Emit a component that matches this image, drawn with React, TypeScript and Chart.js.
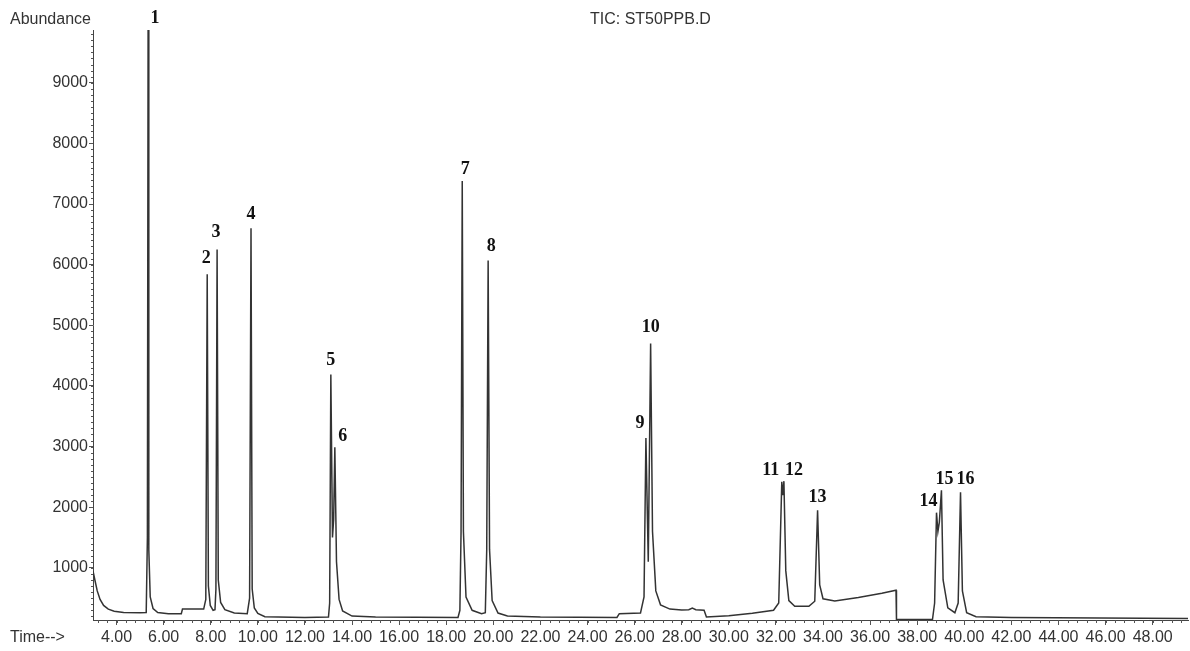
import React, { useEffect, useRef } from "react";
import { Chart, registerables } from "chart.js";

Chart.register(...registerables);

// Retention time (min) and abundance of the total ion chromatogram trace
const times = [
  3.0, 3.08, 3.18, 3.3, 3.45, 3.65, 3.9, 4.3, 5.0, 5.26,
  5.31, 5.34, 5.37, 5.43, 5.55, 5.75, 6.2, 6.75, 6.8, 7.7,
  7.79, 7.85, 7.9, 7.98, 8.1, 8.18, 8.22, 8.27, 8.32, 8.42,
  8.6, 9.0, 9.55, 9.65, 9.71, 9.76, 9.85, 10.0, 10.3, 12.0,
  13.0, 13.05, 13.1, 13.17, 13.22, 13.27, 13.34, 13.45, 13.6, 14.0,
  15.0, 18.5, 18.58, 18.63, 18.68, 18.73, 18.84, 19.1, 19.5, 19.66,
  19.72, 19.78, 19.84, 19.95, 20.2, 20.6, 22.0, 25.25, 25.35, 26.25,
  26.4, 26.48, 26.58, 26.68, 26.76, 26.9, 27.1, 27.5, 28.0, 28.3,
  28.45, 28.6, 28.95, 29.05, 30.0, 31.0, 31.9, 32.12, 32.25, 32.3,
  32.34, 32.42, 32.55, 32.8, 33.4, 33.65, 33.77, 33.86, 34.0, 34.5,
  35.5, 36.5, 37.1, 37.12, 38.65, 38.74, 38.82, 38.88, 38.94, 39.03,
  39.1, 39.3, 39.6, 39.74, 39.84, 39.92, 40.1, 40.5, 42.0, 49.5,
];
const abundance = [
  950, 800, 620, 480, 380, 320, 285, 265, 258, 262,
  1500, 9870, 1300, 520, 330, 262, 245, 245, 320, 320,
  480, 5840, 700, 380, 300, 310, 650, 6250, 800, 430,
  310, 255, 245, 500, 6600, 650, 340, 250, 195, 182,
  188, 420, 4190, 1500, 1800, 2990, 1100, 480, 290, 205,
  188, 182, 300, 1600, 7380, 1600, 520, 300, 245, 260,
  1300, 6070, 1300, 460, 255, 205, 188, 182, 245, 255,
  520, 3140, 1100, 4700, 1600, 620, 390, 320, 305, 310,
  335, 310, 300, 190, 210, 250, 300, 420, 2420, 2200,
  2430, 950, 460, 365, 365, 450, 1950, 720, 490, 455,
  510, 580, 630, 150, 150, 420, 1910, 1600, 1750, 2280,
  800, 340, 260, 420, 2245, 620, 260, 195, 180, 165,
];

// Peak annotations
const peakLabels = ["1", "2", "3", "4", "5", "6", "7", "8", "9", "10", "11", "12", "13", "14", "15", "16"];
const peakTimes = [5.34, 7.85, 8.27, 9.71, 13.1, 13.27, 18.68, 19.78, 26.48, 26.68, 32.25, 32.34, 33.77, 38.82, 39.03, 39.84];
const peakHeights = [9870, 5840, 6250, 6600, 4190, 2990, 7380, 6070, 3140, 4700, 2420, 2430, 1950, 1910, 2280, 2245];

// Axis ticks
const xTickValues = [4, 6, 8, 10, 12, 14, 16, 18, 20, 22, 24, 26, 28, 30, 32, 34, 36, 38, 40, 42, 44, 46, 48];
const yTickValues = [1000, 2000, 3000, 4000, 5000, 6000, 7000, 8000, 9000];

const titleText = "TIC: ST50PPB.D";
const yAxisTitle = "Abundance";
const xAxisTitle = "Time-->";

// label pixel offsets relative to each peak top (style only)
const labelOffsets: [number, number][] = [
  [7, -12], [-1, -16], [-1, -17], [0, -14], [0, -14], [8, -11], [3, -12], [3, -14],
  [-6, -15], [0, -16], [-11, -11], [10, -11], [0, -13], [-8, -11], [3, -11], [5, -13],
];

const X_MIN = 3.0;
const X_MAX = 49.5;
const Y_MIN = 140;
const Y_MAX = 9870;

const SANS = "'Liberation Sans', Arial, sans-serif";
const TEXT_COLOR = "#333";

const decorPlugin = {
  id: "decor",
  afterDraw(chart: any) {
    const { ctx, scales, chartArea } = chart;
    const xs = scales.x;
    const ys = scales.y;
    ctx.save();
    // minor ticks
    ctx.strokeStyle = "#555";
    ctx.lineWidth = 1;
    ctx.beginPath();
    for (let i = 0; ; i++) {
      const v = 3.2 + i * 0.4;
      if (v > X_MAX) break;
      const px = Math.round(xs.getPixelForValue(v)) + 0.5;
      ctx.moveTo(px, chartArea.bottom);
      ctx.lineTo(px, chartArea.bottom + 3);
    }
    for (let i = 0; ; i++) {
      const v = 200 + i * 100;
      if (v > Y_MAX) break;
      const py = Math.round(ys.getPixelForValue(v)) + 0.5;
      ctx.moveTo(chartArea.left, py);
      ctx.lineTo(chartArea.left - 2, py);
    }
    ctx.stroke();

    // axis captions and title
    ctx.fillStyle = TEXT_COLOR;
    ctx.font = `16px ${SANS}`;
    ctx.textBaseline = "middle";
    ctx.textAlign = "left";
    ctx.fillText(yAxisTitle, 10, 20);
    ctx.fillText(xAxisTitle, 10, 638);
    ctx.fillText(titleText, 590, 20);

    // peak numbers
    ctx.fillStyle = "#111";
    ctx.font = `bold 18px 'Liberation Serif', 'Times New Roman', serif`;
    ctx.textAlign = "center";
    ctx.textBaseline = "middle";
    peakLabels.forEach((lab, i) => {
      const px = xs.getPixelForValue(peakTimes[i]) + labelOffsets[i][0];
      const py = ys.getPixelForValue(Math.min(peakHeights[i], Y_MAX)) + labelOffsets[i][1];
      ctx.fillText(lab, px, py);
    });
    ctx.restore();
  },
};

export default function App() {
  const canvasRef = useRef<HTMLCanvasElement | null>(null);

  useEffect(() => {
    const canvas = canvasRef.current;
    if (!canvas) return;
    const points = times.map((t, i) => ({ x: t, y: abundance[i] }));
    const chart = new Chart(canvas, {
      type: "line",
      data: {
        datasets: [
          {
            data: points,
            borderColor: "#333",
            borderWidth: 1.5,
            pointRadius: 0,
            tension: 0,
            fill: false,
          },
        ],
      },
      options: {
        responsive: false,
        animation: false,
        events: [],
        layout: { padding: { top: 30, left: 0, right: 2, bottom: 0 } },
        plugins: {
          legend: { display: false },
          tooltip: { enabled: false },
          title: { display: false },
        },
        scales: {
          x: {
            type: "linear",
            min: X_MIN,
            max: X_MAX,
            afterBuildTicks: (scale: any) => {
              scale.ticks = xTickValues.map((v) => ({ value: v }));
            },
            afterFit: (scale: any) => {
              scale.height = 31;
            },
            grid: {
              display: true,
              drawOnChartArea: false,
              drawTicks: true,
              tickLength: 5,
              tickColor: "#555",
            },
            border: { display: true, color: "#444", width: 1 },
            ticks: {
              autoSkip: false,
              maxRotation: 0,
              minRotation: 0,
              padding: 3,
              color: TEXT_COLOR,
              font: { family: SANS, size: 16 },
              callback: (v: any) => Number(v).toFixed(2),
            },
          },
          y: {
            type: "linear",
            min: Y_MIN,
            max: Y_MAX,
            afterBuildTicks: (scale: any) => {
              scale.ticks = yTickValues.map((v) => ({ value: v }));
            },
            afterFit: (scale: any) => {
              scale.width = 93;
            },
            grid: {
              display: true,
              drawOnChartArea: false,
              drawTicks: true,
              tickLength: 4,
              tickColor: "#555",
            },
            border: { display: true, color: "#444", width: 1 },
            ticks: {
              autoSkip: false,
              padding: 1,
              color: TEXT_COLOR,
              font: { family: SANS, size: 16 },
              callback: (v: any) => String(v),
            },
          },
        },
      },
      plugins: [decorPlugin],
    });
    return () => chart.destroy();
  }, []);

  return (
    <div style={{ position: "fixed", left: 0, top: 0, width: 1190, height: 651, background: "#fff" }}>
      <canvas ref={canvasRef} width={1190} height={651} style={{ display: "block" }} />
    </div>
  );
}
